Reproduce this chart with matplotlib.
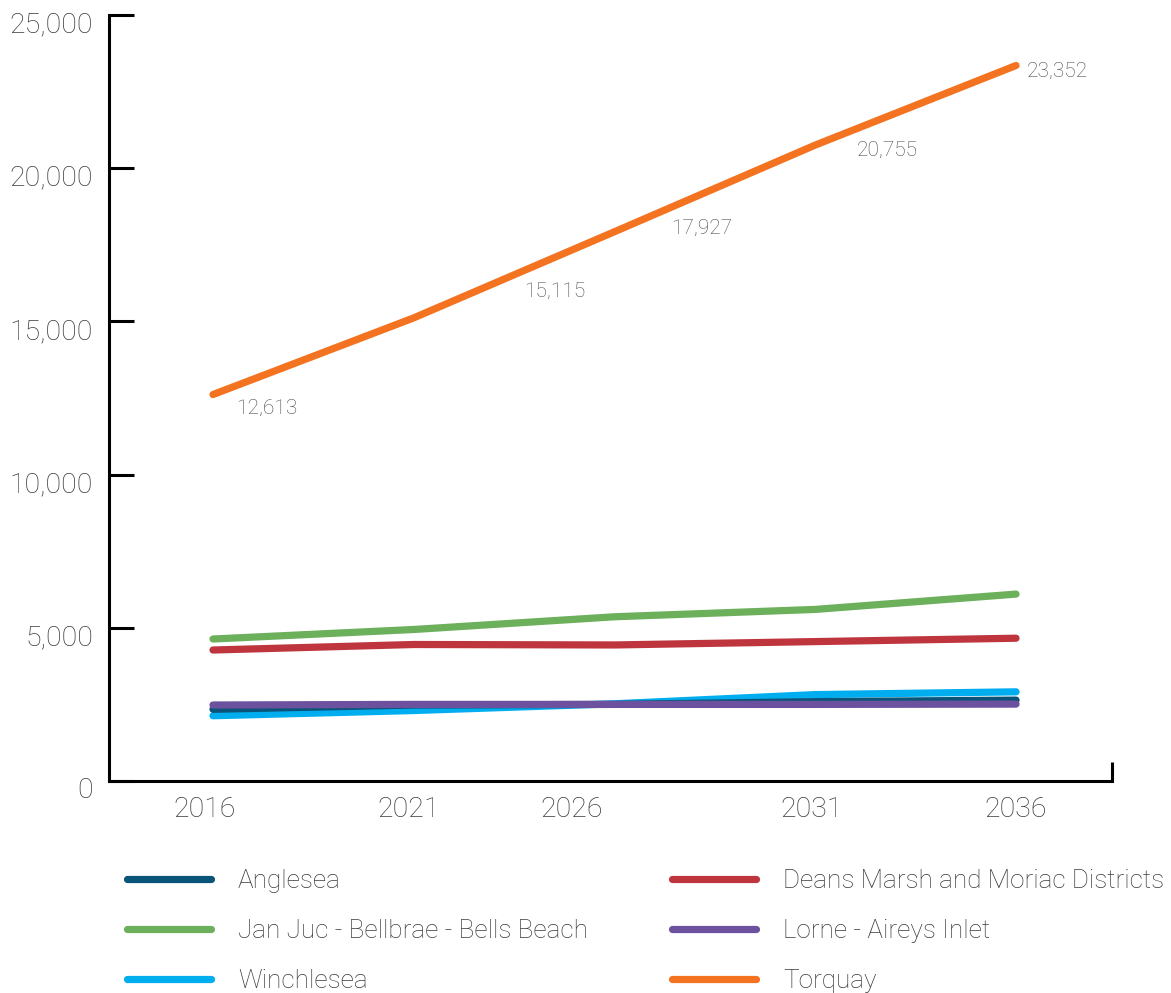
import numpy as np
import matplotlib.pyplot as plt
from matplotlib.transforms import ScaledTranslation

plt.rcParams['font.family'] = ['Roboto', 'DejaVu Sans']
plt.rcParams['font.weight'] = 'light'

# --- dados: população projetada por localidade ---
years = [2016, 2021, 2026, 2031, 2036]
anglesea = [2340, 2480, 2500, 2590, 2640]
jan_juc = [4634, 4945, 5360, 5600, 6100]
winchelsea = [2130, 2300, 2520, 2820, 2910]
deans_marsh = [4275, 4455, 4440, 4550, 4660]
lorne = [2480, 2500, 2500, 2500, 2510]
torquay = [12613, 15115, 17927, 20755, 23352]

year_labels = ['2016', '2021', '2026', '2031', '2036']
year_label_pos = [2015.8, 2020.86, 2024.92, 2030.9, 2036.0]
y_ticks = [0, 5000, 10000, 15000, 20000, 25000]

# onde ficam os rótulos de valor do Torquay (eixo x, em anos)
torquay_label_x = [2017.34, 2024.52, 2028.18, 2032.79]

C_ANGLESEA = '#0b5479'
C_JANJUC = '#6cb05b'
C_WINCH = '#00aeef'
C_DEANS = '#bf353e'
C_LORNE = '#6c519e'
C_TORQUAY = '#f47321'
TXT = '#3a3a3a'

fig = plt.figure(figsize=(11.71, 9.93), dpi=100)
ax = fig.add_axes([109 / 1171, 212 / 993, 1003 / 1171, 766 / 993])

lw = 5.2
kw = dict(lw=lw, solid_capstyle='round', solid_joinstyle='round')
ln_tor, = ax.plot(years, torquay, color=C_TORQUAY, label='Torquay', **kw)
ln_jj, = ax.plot(years, jan_juc, color=C_JANJUC, label='Jan Juc - Bellbrae - Bells Beach', **kw)
ln_dm, = ax.plot(years, deans_marsh, color=C_DEANS, label='Deans Marsh and Moriac Districts', **kw)
ln_wi, = ax.plot(years, winchelsea, color=C_WINCH, label='Winchlesea', **kw)
ln_an, = ax.plot(years, anglesea, color=C_ANGLESEA, label='Anglesea', **kw)
ln_lo, = ax.plot(years, lorne, color=C_LORNE, label='Lorne - Aireys Inlet', **kw)

ax.set_xlim(2013.41, 2038.39)
ax.set_ylim(0, 25000)

# rótulos de valor abaixo da linha do Torquay
for lx, val in zip(torquay_label_x, torquay[:4]):
    ax.annotate(f'{val:,}', xy=(lx, np.interp(lx, years, torquay)),
                xytext=(0, -34), textcoords='offset pixels',
                ha='center', va='center', fontsize=15, color='#4a4a4a')
ax.annotate(f'{torquay[-1]:,}', xy=(years[-1], torquay[-1]),
            xytext=(11, -6), textcoords='offset pixels',
            ha='left', va='center', fontsize=15, color='#4a4a4a')

# eixos
for s in ['top', 'right']:
    ax.spines[s].set_visible(False)
for s in ['left', 'bottom']:
    ax.spines[s].set_linewidth(2.2)
    ax.spines[s].set_color('black')

ax.set_yticks(y_ticks)
ax.set_yticklabels([f'{v:,}' for v in y_ticks])
ax.tick_params(axis='y', direction='in', length=18, width=2.2, pad=11.5,
               labelsize=20.5, labelcolor=TXT)
offset = ScaledTranslation(0, -7 / 100, fig.dpi_scale_trans)
for lab in ax.get_yticklabels():
    lab.set_transform(lab.get_transform() + offset)

ax.set_xticks(year_label_pos)
ax.set_xticklabels(year_labels)
ax.tick_params(axis='x', length=0, pad=11, labelsize=20.5, labelcolor=TXT)
# traço no fim do eixo x
ax.set_xticks([ax.get_xlim()[1]], minor=True)
ax.tick_params(axis='x', which='minor', direction='in', length=14, width=2.2)

# legenda em duas colunas
leg_kw = dict(frameon=False, fontsize=18.8, handlelength=3.2, handletextpad=1.05,
              labelspacing=1.0, labelcolor=TXT, borderpad=0, borderaxespad=0)
leg1 = fig.legend([ln_an, ln_jj, ln_wi], [ln_an.get_label(), ln_jj.get_label(), ln_wi.get_label()],
                  loc='upper left', bbox_to_anchor=(127 / 1171, 1 - 869 / 993), **leg_kw)
leg2 = fig.legend([ln_dm, ln_lo, ln_tor], [ln_dm.get_label(), ln_lo.get_label(), ln_tor.get_label()],
                  loc='upper left', bbox_to_anchor=(672 / 1171, 1 - 869 / 993), **leg_kw)

fig.savefig('out.png', dpi=100)
